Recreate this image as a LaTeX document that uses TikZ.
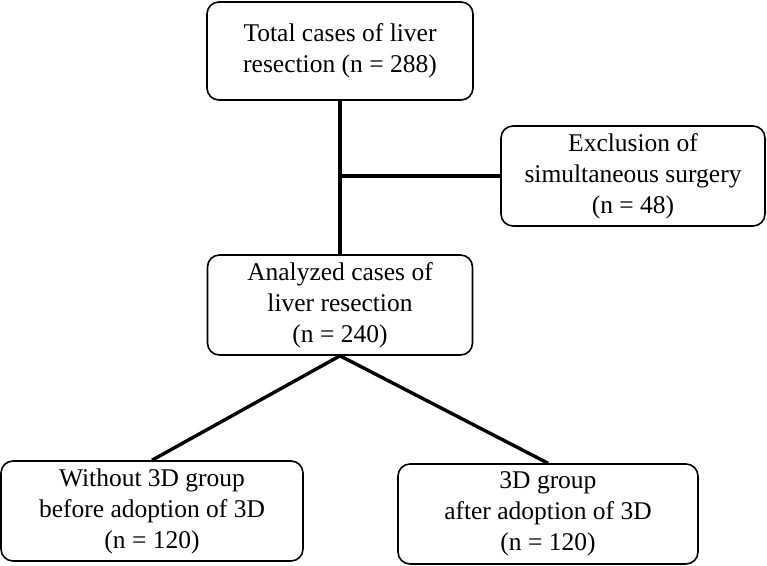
\documentclass[tikz,border=0pt]{standalone}
\usepackage{fontspec}
\setmainfont{Liberation Serif}
\usepackage{tikz}
\usetikzlibrary{positioning}

\begin{document}
\begin{tikzpicture}[x=1pt, y=-1pt,
	bloco/.style={draw, rounded corners=12pt, line width=1.6pt, align=center,
		inner sep=0pt, minimum height=100pt,
		font=\fontsize{25.5}{31}\selectfont},
	liga/.style={line width=3.4pt}]
	\useasboundingbox (0,0) rectangle (767,565);
	% Caixas
	\node [bloco, minimum width=266pt, minimum height=98pt] (total) at (340,51)
		{Total cases of liver\\resection (n = 288)};
	\node [bloco, minimum width=264pt] (excl) at (633,176)
		{Exclusion of\\simultaneous surgery\\(n = 48)};
	\node [bloco, minimum width=265pt] (anal) at (340,305)
		{Analyzed cases of\\liver resection\\(n = 240)};
	\node [bloco, minimum width=302pt] (sem) at (152,511)
		{Without 3D group\\before adoption of 3D\\(n = 120)};
	\node [bloco, minimum width=300pt] (com) at (548,514)
		{3D group\\after adoption of 3D\\(n = 120)};
	% Ligações
	\coordinate (juncao) at (total.south |- excl.west);
	\draw [liga] (total) -- (anal);
	\draw [liga] (juncao) -- (excl);
	\draw [liga] (anal.south) -- (sem.north);
	\draw [liga] (anal.south) -- (com.north);
\end{tikzpicture}
\end{document}
